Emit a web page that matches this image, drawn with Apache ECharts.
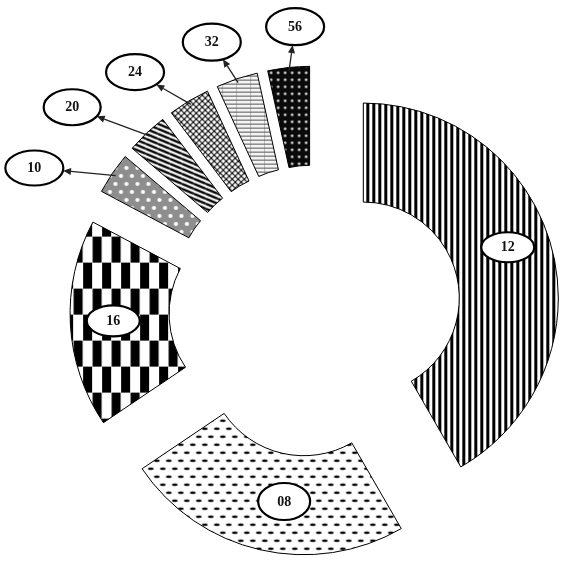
<!DOCTYPE html>
<html>
<head>
<meta charset="utf-8">
<script src="https://cdn.jsdelivr.net/npm/echarts@6/dist/echarts.min.js"></script>
<style>
html, body { margin: 0; padding: 0; background: #fff; }
#main { width: 564px; height: 564px; }
</style>
</head>
<body>
<div id="main"></div>
<script>
// slices clockwise from 12 o'clock
var sliceNames = ['12', '08', '16', '10', '20', '24', '32', '56'];
// angular size of every slice in degrees
var sliceSpans = [150, 86, 62, 12.4, 12.4, 12.4, 12.4, 12.4];
// thin slices get a callout arrow, the big ones are labelled in place
var calloutNames = ['10', '20', '24', '32', '56'];

// layout
var CX = 315, CY = 311, R0 = 96, R1 = 195, OFFSET = 50;
// where each label ellipse sits: [angle from 12 o'clock, distance from centre]
var labelAt = {
	'12': [71.7, 203], '08': [189.2, 193], '16': [267.2, 202],
	'10': [297, 315], '20': [310, 317], '24': [323, 299], '32': [339, 288], '56': [356, 285]
};
// ellipse half sizes
var labelR = {
	'12': [26.5, 15], '08': [26, 18.5], '16': [26.5, 15.5],
	'10': [29, 17.5], '20': [28.5, 18], '24': [29, 18], '32': [29, 18.5], '56': [29, 18.5]
};

function tile(w, h, draw) {
	var c = document.createElement('canvas');
	c.width = w;
	c.height = h;
	draw(c.getContext('2d'), w, h);
	return c;
}

// fill patterns, one per slice
var patterns = {
	// vertical stripes
	'12': tile(6, 6, function (g) {
		g.fillStyle = '#fff'; g.fillRect(0, 0, 6, 6);
		g.fillStyle = '#000'; g.fillRect(0, 0, 3, 6);
	}),
	// small black dashes, staggered
	'08': tile(12, 16, function (g) {
		g.fillStyle = '#fff'; g.fillRect(0, 0, 12, 16);
		g.fillStyle = '#000';
		[[6, 4], [0, 12], [12, 12]].forEach(function (p) {
			g.beginPath(); g.ellipse(p[0], p[1], 2.9, 1.3, 0, 0, Math.PI * 2); g.fill();
		});
	}),
	// vertical bars shifted every row
	'16': tile(19, 52, function (g) {
		g.fillStyle = '#fff'; g.fillRect(0, 0, 19, 52);
		g.fillStyle = '#000';
		g.fillRect(0, 0, 9, 26);
		g.fillRect(9.5, 26, 9, 26);
	}),
	// grey with white dots
	'10': tile(11, 16, function (g) {
		g.fillStyle = '#8e8e8e'; g.fillRect(0, 0, 11, 16);
		g.fillStyle = '#fff';
		[[2.75, 4], [8.25, 12]].forEach(function (p) {
			g.beginPath(); g.arc(p[0], p[1], 2.1, 0, Math.PI * 2); g.fill();
		});
	}),
	// shallow diagonal stripes
	'20': tile(12, 5, function (g) {
		g.fillStyle = '#fff'; g.fillRect(0, 0, 12, 5);
		g.strokeStyle = '#000'; g.lineWidth = 2.4;
		[-5, 0, 5].forEach(function (o) {
			g.beginPath(); g.moveTo(0, o); g.lineTo(12, o + 5); g.stroke();
		});
	}),
	// diagonal lattice
	'24': tile(6, 6, function (g) {
		g.fillStyle = '#fff'; g.fillRect(0, 0, 6, 6);
		g.strokeStyle = '#111'; g.lineWidth = 1.2;
		[-6, 0, 6].forEach(function (o) {
			g.beginPath(); g.moveTo(o, 0); g.lineTo(o + 6, 6); g.stroke();
			g.beginPath(); g.moveTo(o, 6); g.lineTo(o + 6, 0); g.stroke();
		});
	}),
	// light with thin horizontal rules
	'32': tile(14, 4, function (g) {
		g.fillStyle = '#f4f4f4'; g.fillRect(0, 0, 14, 4);
		g.fillStyle = '#b0b0b0'; g.fillRect(0, 0, 0.8, 4);
		g.fillStyle = '#555'; g.fillRect(0, 3, 14, 1);
	}),
	// black with white dots
	'56': tile(7, 7, function (g) {
		g.fillStyle = '#0a0a0a'; g.fillRect(0, 0, 7, 7);
		g.fillStyle = '#fff';
		g.beginPath(); g.arc(3.5, 3.5, 1.2, 0, Math.PI * 2); g.fill();
	})
};

var total = sliceSpans.reduce(function (a, b) { return a + b; }, 0);
var startAt = [];
sliceSpans.reduce(function (acc, v) {
	startAt.push(acc / total * 360);
	return acc + v;
}, 0);

function dir(a) {
	var r = a * Math.PI / 180;
	return [Math.sin(r), -Math.cos(r)];
}

var pieData = sliceNames.map(function (n, i) {
	return {
		name: n,
		value: sliceSpans[i],
		selected: true,
		itemStyle: { color: { image: patterns[n], repeat: 'repeat' } }
	};
});

function renderLabel(params, api) {
	var name = sliceNames[params.dataIndex];
	var at = labelAt[name];
	var p = dir(at[0]);
	var ex = CX + p[0] * at[1];
	var ey = CY + p[1] * at[1];
	var rx = labelR[name][0], ry = labelR[name][1];
	var children = [];
	if (calloutNames.indexOf(name) >= 0) {
		var k = params.dataIndex;
		var u = dir(startAt[k] + sliceSpans[k] / total * 180);
		var sx = CX + u[0] * (OFFSET + R1 - 4);
		var sy = CY + u[1] * (OFFSET + R1 - 4);
		var dx = ex - sx, dy = ey - sy;
		var len = Math.sqrt(dx * dx + dy * dy);
		dx /= len; dy /= len;
		var edge = 1 / Math.sqrt(dx * dx / (rx * rx) + dy * dy / (ry * ry));
		var tx = ex - dx * edge, ty = ey - dy * edge;
		var hl = 8, hw = 3.5;
		var bx = tx - dx * hl, by = ty - dy * hl;
		children.push(
			{ type: 'line', shape: { x1: sx, y1: sy, x2: bx, y2: by }, style: { stroke: '#222', lineWidth: 1.3 } },
			{ type: 'polygon', shape: { points: [[tx, ty], [bx - dy * hw, by + dx * hw], [bx + dy * hw, by - dx * hw]] }, style: { fill: '#222' } }
		);
	}
	children.push(
		{ type: 'ellipse', shape: { cx: ex, cy: ey, rx: rx, ry: ry }, style: { fill: '#fff', stroke: '#000', lineWidth: 2.2 } },
		{ type: 'text', style: { text: name, x: ex, y: ey + 0.5, align: 'center', verticalAlign: 'middle', font: 'bold 14px "Liberation Serif"', fill: '#111' } }
	);
	return { type: 'group', children: children };
}

var myChart = echarts.init(document.getElementById('main'));
myChart.setOption({
	backgroundColor: '#fff',
	animation: false,
	series: [{
		type: 'pie',
		center: [CX, CY],
		radius: [R0, R1],
		startAngle: 90,
		clockwise: true,
		selectedMode: 'multiple',
		selectedOffset: OFFSET,
		avoidLabelOverlap: false,
		silent: true,
		emphasis: { disabled: true },
		itemStyle: { borderColor: '#000', borderWidth: 1 },
		select: { itemStyle: { borderColor: '#000', borderWidth: 1 } },
		label: { show: false },
		labelLine: { show: false },
		data: pieData
	}, {
		type: 'custom',
		coordinateSystem: 'none',
		silent: true,
		z: 5,
		renderItem: renderLabel,
		data: sliceNames.map(function (n, i) { return [i]; })
	}]
});
</script>
</body>
</html>
